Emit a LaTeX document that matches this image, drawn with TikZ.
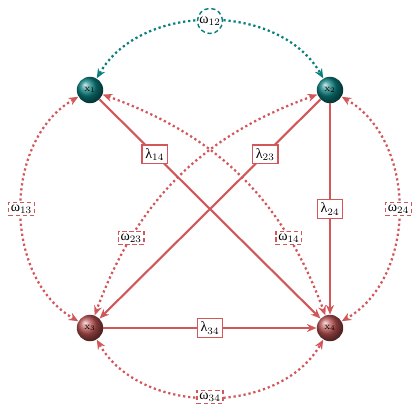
\documentclass[tikz,border=0pt]{standalone}
\usepackage{fontspec}
\newfontfamily\grk{Liberation Serif}
\usepackage{xcolor}
\definecolor{NetTeal}{HTML}{0B7F7F}
\definecolor{NetRed}{HTML}{D2575A}
\definecolor{NetRedD}{HTML}{B85050}
\usetikzlibrary{positioning,arrows.meta}

\begin{document}
\begin{tikzpicture}[
  node distance=5.95cm and 6cm, on grid,
  ball/.style={circle, minimum size=0.66cm, inner sep=0pt, font=\scriptsize, text=black},
  topball/.style={ball, ball color=NetTeal},
  lowball/.style={ball, ball color=NetRedD},
  lam/.style={draw=NetRed, line width=1pt, fill=white, inner sep=2.4pt, text=black},
  omg/.style={draw=NetRed, densely dashed, line width=1pt, fill=white, inner sep=1.6pt, text=black},
  larr/.style={-{Stealth[length=2.4mm, width=2mm]}, line width=1.5pt, color=NetRed},
  warr/.style={{Stealth[length=2.4mm, width=2mm]}-{Stealth[length=2.4mm, width=2mm]}, line width=1.6pt, dotted, color=NetRed}
]
\useasboundingbox (0,0) rectangle (10.5,-10.5);

\node[topball] (x1) at (2.25,-2.25) {$\mathrm{x}_1$};
\node[topball, right=of x1] (x2) {$\mathrm{x}_2$};
\node[lowball, below=of x1] (x3) {$\mathrm{x}_3$};
\node[lowball, right=of x3] (x4) {$\mathrm{x}_4$};

% covariances
\draw[warr, color=NetTeal] (x1) to[bend left=60]
  node[circle, draw=NetTeal, densely dashed, line width=1pt, fill=white, inner sep=0.6pt, text=black] (w12) {{\grk ω}$_{12}$} (x2);
\draw[warr] (x1) to[bend right=60] node[omg] (w13) {{\grk ω}$_{13}$} (x3);
\draw[warr] (x2) to[bend left=60] node[omg] (w24) {{\grk ω}$_{24}$} (x4);
\draw[warr] (x3) to[bend right=60] node[omg] (w34) {{\grk ω}$_{34}$} (x4);
\draw[warr] (x1) to[bend left=25] node[omg, pos=0.75] (w14) {{\grk ω}$_{14}$} (x4);
\draw[warr] (x2) to[bend right=25] node[omg, pos=0.75] (w23) {{\grk ω}$_{23}$} (x3);

% loadings
\draw[larr] (x1) -- node[lam, pos=0.25] (l14) {{\grk λ}$_{14}$} (x4);
\draw[larr] (x2) -- node[lam, pos=0.25] (l23) {{\grk λ}$_{23}$} (x3);
\draw[larr] (x2) -- node[lam] (l24) {{\grk λ}$_{24}$} (x4);
\draw[larr] (x3) -- node[lam] (l34) {{\grk λ}$_{34}$} (x4);
\end{tikzpicture}
\end{document}
